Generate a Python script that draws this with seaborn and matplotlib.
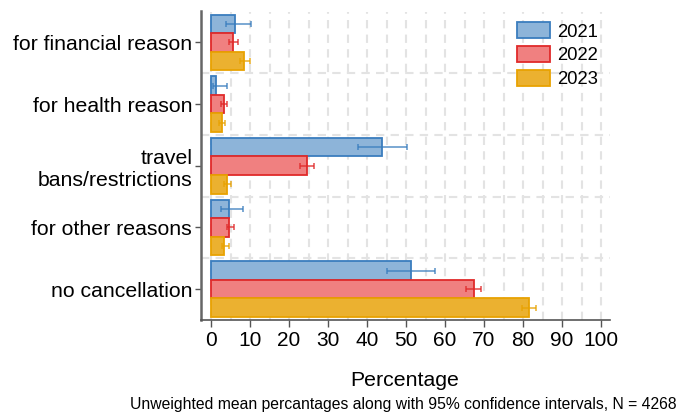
import numpy as np
import pandas as pd
import matplotlib
matplotlib.use("Agg")
import matplotlib.pyplot as plt
from matplotlib.patches import Patch
import seaborn as sns

# Reasons for trip cancellation, by survey year
categories = ["for financial reason", "for health reason", "travel\nbans/restrictions",
              "for other reasons", "no cancellation"]
years = ["2021", "2022", "2023"]

mean_2021 = [6.2, 1.4, 43.8, 4.6, 51.3]
lo_2021 = [3.9, 0.6, 37.8, 2.6, 45.2]
hi_2021 = [10.2, 4.2, 50.2, 8.2, 57.4]

mean_2022 = [5.6, 3.2, 24.6, 4.7, 67.3]
lo_2022 = [4.7, 2.5, 22.8, 4.0, 65.3]
hi_2022 = [6.8, 4.2, 26.5, 5.9, 69.3]

mean_2023 = [8.5, 2.8, 4.1, 3.4, 81.6]
lo_2023 = [7.4, 2.1, 3.3, 2.8, 79.7]
hi_2023 = [10.0, 3.7, 5.2, 4.6, 83.2]

x_ticks = list(range(0, 101, 10))

means = {"2021": mean_2021, "2022": mean_2022, "2023": mean_2023}
lows = {"2021": lo_2021, "2022": lo_2022, "2023": lo_2023}
highs = {"2021": hi_2021, "2022": hi_2022, "2023": hi_2023}

fills = {"2021": "#8db4d9", "2022": "#f08080", "2023": "#ebb130"}
edges = {"2021": "#3a7dbe", "2022": "#e02a2a", "2023": "#e8a202"}

df = pd.DataFrame(
    [(c, y, means[y][i]) for i, c in enumerate(categories) for y in years],
    columns=["reason", "year", "pct"],
)

sns.set_theme(style="white")
plt.rcParams["font.family"] = ["Liberation Sans", "DejaVu Sans"]
plt.rcParams["text.color"] = "black"
plt.rcParams["xtick.labelcolor"] = "black"
plt.rcParams["ytick.labelcolor"] = "black"

fig = plt.figure(figsize=(6.81, 4.12), dpi=100)
ax = fig.add_axes([200.5 / 681, 1 - 320 / 412, 409.5 / 681, 308.5 / 412])

sns.barplot(data=df, y="reason", x="pct", hue="year", order=categories,
            hue_order=years, palette=fills, saturation=1, orient="h", width=0.9,
            errorbar=None, ax=ax, legend=False, zorder=3)

# outline each bar in its year's stronger colour and add the confidence intervals
for year, container in zip(years, ax.containers):
    ycent = []
    for patch in container:
        patch.set_edgecolor(edges[year])
        patch.set_linewidth(1.3)
        ycent.append(patch.get_y() + patch.get_height() / 2)
    m = np.array(means[year])
    err = np.vstack([m - np.array(lows[year]), np.array(highs[year]) - m])
    ax.errorbar(m, ycent, xerr=err, fmt="none", ecolor=edges[year],
                elinewidth=1.1, capsize=1.9, capthick=1.1, alpha=0.85, zorder=4)

ax.set_xlim(-2.7, 102.3)
ax.set_ylim(len(categories) - 0.5, -0.5)
ax.set_xticks(x_ticks)
ax.set_xticklabels([str(t) for t in x_ticks], fontsize=15)
ax.tick_params(axis="y", labelsize=15.3, length=4, width=1, color="#555555",
               labelcolor="black", left=True, pad=2)
ax.tick_params(axis="x", length=5, width=1, color="#555555", labelcolor="black",
               bottom=True, pad=3)

# dashed grid: every 5 units across, and between the reason groups
for v in range(0, 101, 5):
    ax.axvline(v, color="#e3e3e3", lw=1.5, ls=(0, (4, 3)), zorder=1)
for b in np.arange(0.5, len(categories) - 1, 1.0):
    ax.axhline(b, color="#e3e3e3", lw=1.5, ls=(0, (4, 3)), zorder=1)

for side in ("top", "right"):
    ax.spines[side].set_visible(False)
ax.spines["left"].set_color("#666666")
ax.spines["left"].set_linewidth(1.8)
ax.spines["bottom"].set_color("#555555")
ax.spines["bottom"].set_linewidth(1.2)
ax.set_xlabel("")
ax.set_ylabel("")

handles = [Patch(facecolor=fills[y], edgecolor=edges[y], linewidth=1.3, label=y)
           for y in years]
ax.legend(handles=handles, loc="upper left", bbox_to_anchor=(0.773, 0.965),
          frameon=False, fontsize=13.3, borderpad=0, handlelength=1.8,
          handleheight=0.95, labelspacing=0.3, handletextpad=0.35,
          borderaxespad=0, labelcolor="black")

fig.text(405 / 681, 1 - 380 / 412, "Percentage", ha="center", va="center",
         fontsize=15.3, color="black")
fig.text(130 / 681, 1 - 404 / 412,
         "Unweighted mean percantages along with 95% confidence intervals, N = 4268",
         ha="left", va="center", fontsize=11.35, color="black")

fig.savefig("out.png", dpi=100)
